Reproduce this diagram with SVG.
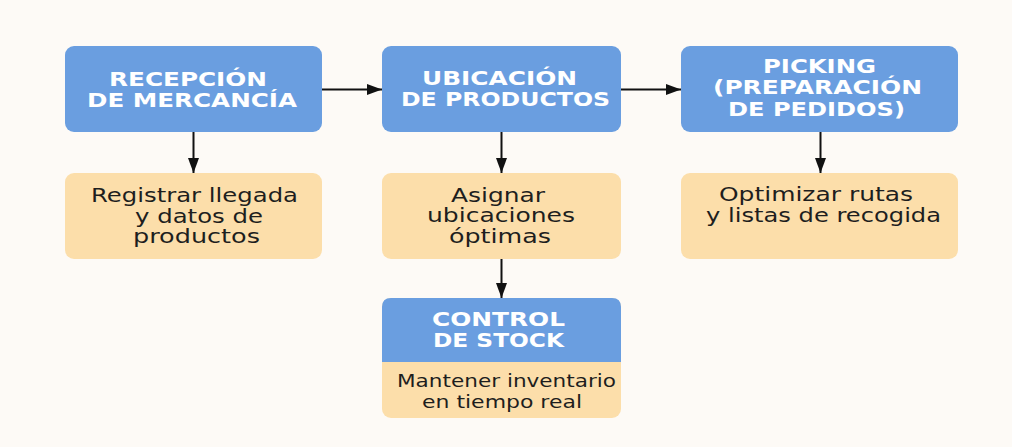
<svg xmlns="http://www.w3.org/2000/svg" width="1012" height="447" viewBox="0 0 1012 447">
<defs>
<marker id="arr" markerUnits="userSpaceOnUse" markerWidth="16" markerHeight="12" refX="15" refY="6" orient="auto">
<path d="M0,0.5 L15,6 L0,11.5 Z" fill="#111"/>
</marker>
<style>
.blue{fill:#6A9EE0}
.orange{fill:#FCDEAA}
.t{font-family:"DejaVu Sans","Liberation Sans",sans-serif;font-weight:bold;font-size:19.5px;fill:#ffffff}
.b{font-family:"DejaVu Sans","Liberation Sans",sans-serif;font-size:19px;fill:#1e1e1e}
.c{stroke:#111;stroke-width:2;fill:none;marker-end:url(#arr)}
</style>
</defs>
<rect width="1012" height="447" fill="#FDFAF6"/>
<g id="recepcion">
<rect class="blue" x="65" y="46" width="257" height="86" rx="9"/>
<text class="t" x="109" y="86" textLength="158" lengthAdjust="spacingAndGlyphs">RECEPCIÓN</text>
<text class="t" x="87" y="107" textLength="210" lengthAdjust="spacingAndGlyphs">DE MERCANCÍA</text>
</g>
<g id="registrar">
<rect class="orange" x="65" y="173" width="257" height="86" rx="9"/>
<text class="b" x="91" y="202" textLength="207" lengthAdjust="spacingAndGlyphs">Registrar llegada</text>
<text class="b" x="135" y="223" textLength="128" lengthAdjust="spacingAndGlyphs">y datos de</text>
<text class="b" x="133" y="243" textLength="127" lengthAdjust="spacingAndGlyphs">productos</text>
</g>
<g id="ubicacion">
<rect class="blue" x="382" y="46" width="239" height="86" rx="9"/>
<text class="t" x="422" y="85" textLength="155" lengthAdjust="spacingAndGlyphs">UBICACIÓN</text>
<text class="t" x="401" y="106" textLength="209" lengthAdjust="spacingAndGlyphs">DE PRODUCTOS</text>
</g>
<g id="asignar">
<rect class="orange" x="382" y="173" width="239" height="86" rx="9"/>
<text class="b" x="451" y="202" textLength="94" lengthAdjust="spacingAndGlyphs">Asignar</text>
<text class="b" x="427" y="222" textLength="148" lengthAdjust="spacingAndGlyphs">ubicaciones</text>
<text class="b" x="449" y="243" textLength="102" lengthAdjust="spacingAndGlyphs">óptimas</text>
</g>
<g id="picking">
<rect class="blue" x="681" y="46" width="277" height="86" rx="9"/>
<text class="t" x="763" y="73" textLength="113" lengthAdjust="spacingAndGlyphs">PICKING</text>
<text class="t" x="713" y="94" textLength="209" lengthAdjust="spacingAndGlyphs">(PREPARACIÓN</text>
<text class="t" x="728" y="116" textLength="177" lengthAdjust="spacingAndGlyphs">DE PEDIDOS)</text>
</g>
<g id="optimizar">
<rect class="orange" x="681" y="173" width="277" height="86" rx="9"/>
<text class="b" x="719" y="201" textLength="194" lengthAdjust="spacingAndGlyphs">Optimizar rutas</text>
<text class="b" x="706" y="222" textLength="235" lengthAdjust="spacingAndGlyphs">y listas de recogida</text>
</g>
<g id="control">
<rect class="orange" x="382" y="298" width="239" height="120" rx="9"/>
<path class="blue" d="M382,362 V307 Q382,298 391,298 H612 Q621,298 621,307 V362 Z"/>
<text class="t" x="432" y="326" textLength="133" lengthAdjust="spacingAndGlyphs">CONTROL</text>
<text class="t" x="433" y="347" textLength="131" lengthAdjust="spacingAndGlyphs">DE STOCK</text>
<text class="b" x="397" y="387" textLength="219" lengthAdjust="spacingAndGlyphs" style="font-size:18px">Mantener inventario</text>
<text class="b" x="422" y="408" textLength="160" lengthAdjust="spacingAndGlyphs" style="font-size:18px">en tiempo real</text>
</g>
<g id="connectors">
<line class="c" x1="322" y1="89.5" x2="382" y2="89.5"/>
<line class="c" x1="621" y1="89.5" x2="681" y2="89.5"/>
<line class="c" x1="193.5" y1="132" x2="193.5" y2="173"/>
<line class="c" x1="501.5" y1="132" x2="501.5" y2="173"/>
<line class="c" x1="820.5" y1="132" x2="820.5" y2="173"/>
<line class="c" x1="501.5" y1="259" x2="501.5" y2="298"/>
</g>
</svg>
